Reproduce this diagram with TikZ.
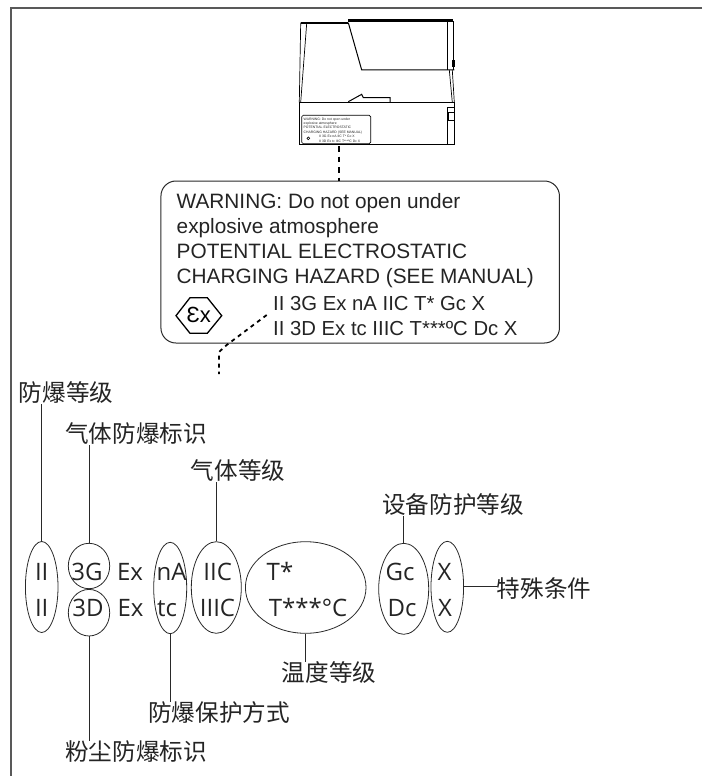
\documentclass[tikz,border=0pt]{standalone}
\usepackage{fontspec}
\setmainfont{Liberation Sans}
\newfontfamily\cnfont{Noto Sans CJK SC}
\newfontfamily\ovalfont{Open Sans}
\usetikzlibrary{shapes.geometric}
\definecolor{LineClr}{rgb}{0.16,0.16,0.16}
\definecolor{FrameClr}{rgb}{0.35,0.35,0.35}
\definecolor{TextClr}{rgb}{0.14,0.14,0.14}
\tikzset{
  oval/.style={draw=LineClr,line width=0.8pt,ellipse,inner sep=0pt},
  cnlabel/.style={font=\cnfont\fontsize{23.6}{26}\selectfont,text=TextClr,inner sep=0pt,text height=19pt,text depth=3pt},
  ovaltext/.style={font=\ovalfont\fontsize{24}{26}\selectfont,text=TextClr,inner sep=0pt,anchor=base},
  warntext/.style={font=\fontsize{20.8}{25}\selectfont,text=TextClr,inner sep=0pt,anchor=base west},
  marktext/.style={font=\fontsize{20.3}{25}\selectfont,text=TextClr,inner sep=0pt,anchor=base west},
  minitext/.style={font=\fontsize{3.4}{4}\selectfont,text=TextClr,inner sep=0pt,anchor=base west},
  leader/.style={LineClr,line width=0.8pt},
  devline/.style={black,line width=0.7pt},
  devthick/.style={black,line width=2.2pt},
  dashline/.style={black,line width=1.8pt,dash pattern=on 4pt off 4pt},
  dashtop/.style={black,line width=1.1pt,dash pattern=on 5.5pt off 5pt}
}

\begin{document}
\begin{tikzpicture}[x=1pt,y=-1pt]
\useasboundingbox (0,0) rectangle (702,776);

% frame
\draw[FrameClr,line width=1.8pt] (702,8) -- (11,8) -- (11,776);

% device
\draw[devthick] (300.7,22.7) -- (348.3,22.7);
\draw[devthick,line width=3pt] (348.3,20.3) -- (452.7,20.3);
\draw[devline,line width=1pt] (348.3,22.7) -- (361.7,70) -- (454.3,70);
\draw[devline] (300.7,22.7) -- (299.3,102.3) (306.7,23.3) -- (300.7,102.3);
\draw[devline] (447.7,21) -- (447.7,70) (453.3,21) -- (453.3,70);
\draw[devline] (449.3,70) -- (452.3,102.3) (452.3,70) -- (454.3,102.3);
\draw[devline,line width=1pt] (299.3,102.3) rectangle (454.3,144);
\draw[devline,line width=1pt] (348.3,101.7) -- (361.7,94.3) -- (363.3,97.7) -- (390,97.7) -- (390,102.3);
\draw[devline] (447.7,144) -- (447.7,107.3) -- (454.3,107.3);
\draw[devline] (448.3,112.3) rectangle (454.3,120);
\draw[devline] (452.7,60) rectangle (454.3,66.7);
\draw[devline,rounded corners=1.5pt] (301.7,115.3) rectangle (370.7,143.7);
\node[minitext] (miniA) at (303.5,120) {WARNING: Do not open under};
\node[minitext] (miniB) at (303.5,124.5) {explosive atmosphere};
\node[minitext] (miniC) at (303.5,128.5) {POTENTIAL ELECTROSTATIC};
\node[minitext] (miniD) at (303.5,133) {CHARGING HAZARD (SEE MANUAL)};
\node[minitext] (miniE) at (319,137.5) {II 3G Ex nA IIC T* Gc X};
\node[minitext] (miniF) at (319,142.5) {II 3D Ex tc IIIC T***ºC Dc X};
\fill[black] (308.3,138.3) circle (1.8pt);
\fill[white] (308.3,138.3) circle (0.7pt);

% label
\node[draw=LineClr,line width=1pt,rounded corners=15pt,inner sep=0pt,minimum width=398.5pt,minimum height=162pt] (plate) at (360.2,262) {};
\node[warntext] (warnA) at (176.5,208) {WARNING: Do not open under};
\node[warntext] (warnB) at (176.5,233) {explosive atmosphere};
\node[warntext] (warnC) at (176.5,258) {POTENTIAL ELECTROSTATIC};
\node[warntext] (warnD) at (176.5,283) {CHARGING HAZARD (SEE MANUAL)};
\node[marktext] (warnE) at (273,310) {II 3G Ex nA IIC T* Gc X};
\node[marktext] (warnF) at (273,335) {II 3D Ex tc IIIC T***ºC Dc X};
\draw[black,line width=1.3pt] (176,315.7) -- (190,297.7) -- (207.3,297.7) -- (221.7,315.7) -- (207.3,333.3) -- (190,333.3) -- cycle;
\node[font=\fontsize{22}{26}\selectfont,inner sep=0pt] (exmark) at (198.8,315) {Ɛx};

% dashed leaders
\coordinate (devfoot) at (339,146);
\draw[dashtop] (devfoot) -- (plate.north -| devfoot);
\coordinate (dashA) at (266.7,315);
\coordinate (dashB) at (226.7,345);
\coordinate (dashC) at (219,352);
\coordinate (dashD) at (219,374);
\draw[dashline] (dashA) -- (dashB) -- (dashC) -- (dashD);

% ovals
\node[oval,minimum width=32.6pt,minimum height=91pt] (ovalClass) at (41.7,587) {};
\node[oval,minimum width=41.4pt,minimum height=45.4pt] (ovalGas) at (89,566) {};
\node[oval,minimum width=41.4pt,minimum height=46.6pt] (ovalDust) at (89,612.7) {};
\node[oval,minimum width=33pt,minimum height=91.4pt] (ovalMode) at (170.2,588) {};
\node[oval,minimum width=50pt,minimum height=91.6pt] (ovalGroup) at (216.3,587.5) {};
\node[oval,minimum width=120.6pt,minimum height=91.6pt] (ovalTemp) at (305.7,587.5) {};
\node[oval,minimum width=50pt,minimum height=91pt] (ovalEpl) at (403.7,588.8) {};
\node[oval,minimum width=32.6pt,minimum height=91pt] (ovalSpec) at (447.3,586.8) {};

% oval texts
\node[ovaltext] (tA) at (41.7,580) {II};
\node[ovaltext] (tB) at (87,580) {3G};
\node[ovaltext] (tC) at (130,580) {Ex};
\node[ovaltext] (tD) at (171.7,580) {nA};
\node[ovaltext] (tE) at (217.7,580) {IIC};
\node[ovaltext] (tF) at (280,580) {T*};
\node[ovaltext] (tG) at (400,580) {Gc};
\node[ovaltext] (tH) at (444.5,580) {X};
\node[ovaltext] (bA) at (41.7,616.7) {II};
\node[ovaltext] (bB) at (88,616.7) {3D};
\node[ovaltext] (bC) at (130.5,616.7) {Ex};
\node[ovaltext] (bD) at (167,616.7) {tc};
\node[ovaltext] (bE) at (217.5,616.7) {IIIC};
\node[ovaltext] (bF) at (308,616.7) {T***°C};
\node[ovaltext] (bG) at (402,616.7) {Dc};
\node[ovaltext] (bH) at (445,616.7) {X};

% captions
\node[cnlabel] (capClass) at (66,393) {防爆等级};
\node[cnlabel] (capGas) at (136,434) {气体防爆标识};
\node[cnlabel] (capGroup) at (238,471) {气体等级};
\node[cnlabel] (capEpl) at (453,505) {设备防护等级};
\node[cnlabel] (capSpec) at (544,589) {特殊条件};
\node[cnlabel] (capTemp) at (329,673) {温度等级};
\node[cnlabel] (capMode) at (219,713) {防爆保护方式};
\node[cnlabel] (capDust) at (136,752) {粉尘防爆标识};

% leaders
\draw[leader] (ovalClass.north) -- (ovalClass.north |- capClass.south);
\draw[leader] (ovalGas.north) -- (ovalGas.north |- capGas.south);
\draw[leader] (ovalGroup.north) -- (ovalGroup.north |- capGroup.south);
\draw[leader] (ovalEpl.north) -- (ovalEpl.north |- capEpl.south);
\draw[leader] (ovalDust.south) -- (ovalDust.south |- capDust.north);
\draw[leader] (ovalMode.south) -- (ovalMode.south |- capMode.north);
\draw[leader] (ovalTemp.south) -- (ovalTemp.south |- capTemp.north);
\draw[leader] (ovalSpec.east) -- (ovalSpec.east -| capSpec.west);

\end{tikzpicture}
\end{document}
